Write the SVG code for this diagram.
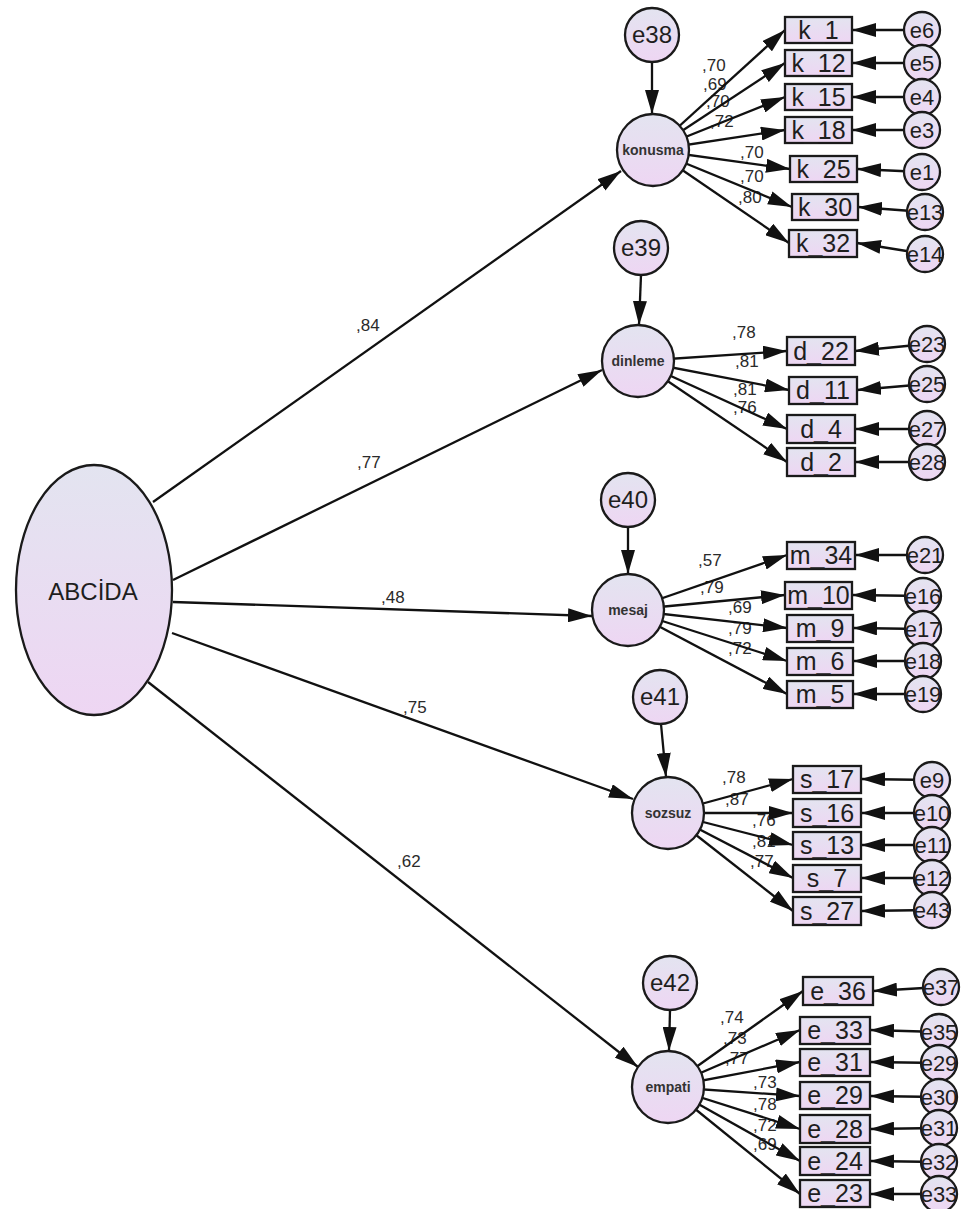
<svg xmlns="http://www.w3.org/2000/svg" width="967" height="1209" viewBox="0 0 967 1209">
<style>
  .n { stroke:#1a1a1a; stroke-width:2.3; fill:url(#g); }
  .c { stroke:#111; stroke-width:2.3; fill:none; marker-end:url(#ah); }
  .bt { font-family:"Liberation Sans",Arial,sans-serif; font-size:25px; fill:#1e1e1e; text-anchor:middle; }
  .et { font-family:"Liberation Sans",Arial,sans-serif; font-size:22px; fill:#1e1e1e; text-anchor:middle; }
  .rt { font-family:"Liberation Sans",Arial,sans-serif; font-size:24px; fill:#1e1e1e; text-anchor:middle; }
  .lt { font-family:"Liberation Sans",Arial,sans-serif; font-size:14px; font-weight:bold; fill:#333; text-anchor:middle; }
  .pl { font-family:"Liberation Sans",Arial,sans-serif; font-size:17px; fill:#2a2a2a; }
</style>
<defs>
  <linearGradient id="g" x1="0" y1="0" x2="0" y2="1">
    <stop offset="0" stop-color="#e3e4f0"/>
    <stop offset="1" stop-color="#eed6f3"/>
  </linearGradient>
  <marker id="ah" markerUnits="userSpaceOnUse" markerWidth="24" markerHeight="14" refX="24" refY="7" orient="auto">
    <path d="M0,0 L24,7 L0,14 z" fill="#111"/>
  </marker>
</defs>
<rect width="967" height="1209" fill="#ffffff"/>

<g id="labels">
  <text class="pl" x="356" y="331">,84</text>
  <text class="pl" x="357" y="468">,77</text>
  <text class="pl" x="381" y="603">,48</text>
  <text class="pl" x="403" y="713">,75</text>
  <text class="pl" x="397" y="867">,62</text>
  <text class="pl" x="702" y="71">,70</text>
  <text class="pl" x="703" y="90">,69</text>
  <text class="pl" x="706" y="107">,70</text>
  <text class="pl" x="710" y="127">,72</text>
  <text class="pl" x="740" y="158">,70</text>
  <text class="pl" x="740" y="182">,70</text>
  <text class="pl" x="738" y="203">,80</text>
  <text class="pl" x="732" y="338">,78</text>
  <text class="pl" x="735" y="367">,81</text>
  <text class="pl" x="733" y="395">,81</text>
  <text class="pl" x="733" y="413">,76</text>
  <text class="pl" x="698" y="566">,57</text>
  <text class="pl" x="700" y="593">,79</text>
  <text class="pl" x="728" y="613">,69</text>
  <text class="pl" x="728" y="634">,79</text>
  <text class="pl" x="728" y="654">,72</text>
  <text class="pl" x="722" y="783">,78</text>
  <text class="pl" x="725" y="805">,87</text>
  <text class="pl" x="752" y="826">,76</text>
  <text class="pl" x="752" y="847">,81</text>
  <text class="pl" x="750" y="867">,77</text>
  <text class="pl" x="720" y="1023">,74</text>
  <text class="pl" x="723" y="1044">,73</text>
  <text class="pl" x="725" y="1064">,77</text>
  <text class="pl" x="753" y="1088">,73</text>
  <text class="pl" x="753" y="1110">,78</text>
  <text class="pl" x="753" y="1131">,72</text>
  <text class="pl" x="753" y="1150">,69</text>
</g>

<g id="connectors">
  <line class="c" x1="153" y1="502" x2="621" y2="171"/>
  <line class="c" x1="173" y1="580" x2="602" y2="370"/>
  <line class="c" x1="173" y1="602" x2="592" y2="616"/>
  <line class="c" x1="172" y1="633" x2="633" y2="799"/>
  <line class="c" x1="148" y1="682" x2="638" y2="1067"/>
  <line class="c" x1="652" y1="62" x2="652" y2="114"/>
  <line class="c" x1="641" y1="275" x2="639" y2="325"/>
  <line class="c" x1="628" y1="527" x2="628" y2="574"/>
  <line class="c" x1="661" y1="724" x2="666" y2="777"/>
  <line class="c" x1="670" y1="1010" x2="669" y2="1051"/>
  <line class="c" x1="653" y1="150" x2="785" y2="30"/>
  <line class="c" x1="653" y1="150" x2="785" y2="63"/>
  <line class="c" x1="653" y1="150" x2="785" y2="97"/>
  <line class="c" x1="653" y1="150" x2="785" y2="130"/>
  <line class="c" x1="653" y1="150" x2="790" y2="169"/>
  <line class="c" x1="653" y1="150" x2="792" y2="207"/>
  <line class="c" x1="653" y1="150" x2="789" y2="243"/>
  <line class="c" x1="922" y1="30" x2="852" y2="30"/>
  <line class="c" x1="922" y1="63" x2="852" y2="63"/>
  <line class="c" x1="922" y1="97" x2="852" y2="97"/>
  <line class="c" x1="922" y1="130" x2="852" y2="130"/>
  <line class="c" x1="922" y1="172" x2="857" y2="169"/>
  <line class="c" x1="925" y1="212" x2="858" y2="207"/>
  <line class="c" x1="925" y1="254" x2="857" y2="243"/>
  <line class="c" x1="638" y1="361" x2="787" y2="351"/>
  <line class="c" x1="638" y1="361" x2="789" y2="390"/>
  <line class="c" x1="638" y1="361" x2="787" y2="429"/>
  <line class="c" x1="638" y1="361" x2="787" y2="462"/>
  <line class="c" x1="927" y1="344" x2="855" y2="351"/>
  <line class="c" x1="927" y1="384" x2="857" y2="390"/>
  <line class="c" x1="927" y1="429" x2="855" y2="429"/>
  <line class="c" x1="927" y1="462" x2="855" y2="462"/>
  <line class="c" x1="628" y1="610" x2="787" y2="555"/>
  <line class="c" x1="628" y1="610" x2="785" y2="595"/>
  <line class="c" x1="628" y1="610" x2="787" y2="628"/>
  <line class="c" x1="628" y1="610" x2="787" y2="661"/>
  <line class="c" x1="628" y1="610" x2="787" y2="694"/>
  <line class="c" x1="925" y1="555" x2="855" y2="555"/>
  <line class="c" x1="923" y1="596" x2="852" y2="595"/>
  <line class="c" x1="923" y1="629" x2="853" y2="628"/>
  <line class="c" x1="923" y1="661" x2="853" y2="661"/>
  <line class="c" x1="923" y1="694" x2="853" y2="694"/>
  <line class="c" x1="668" y1="813" x2="793" y2="779"/>
  <line class="c" x1="668" y1="813" x2="793" y2="813"/>
  <line class="c" x1="668" y1="813" x2="793" y2="845"/>
  <line class="c" x1="668" y1="813" x2="793" y2="878"/>
  <line class="c" x1="668" y1="813" x2="793" y2="911"/>
  <line class="c" x1="932" y1="780" x2="861" y2="779"/>
  <line class="c" x1="932" y1="813" x2="861" y2="813"/>
  <line class="c" x1="932" y1="845" x2="861" y2="845"/>
  <line class="c" x1="932" y1="878" x2="861" y2="878"/>
  <line class="c" x1="932" y1="910" x2="861" y2="911"/>
  <line class="c" x1="668" y1="1087" x2="803" y2="991"/>
  <line class="c" x1="668" y1="1087" x2="800" y2="1030"/>
  <line class="c" x1="668" y1="1087" x2="800" y2="1062"/>
  <line class="c" x1="668" y1="1087" x2="800" y2="1096"/>
  <line class="c" x1="668" y1="1087" x2="800" y2="1129"/>
  <line class="c" x1="668" y1="1087" x2="800" y2="1161"/>
  <line class="c" x1="668" y1="1087" x2="800" y2="1194"/>
  <line class="c" x1="941" y1="987" x2="873" y2="991"/>
  <line class="c" x1="939" y1="1032" x2="870" y2="1030"/>
  <line class="c" x1="939" y1="1063" x2="870" y2="1062"/>
  <line class="c" x1="939" y1="1097" x2="870" y2="1096"/>
  <line class="c" x1="939" y1="1128" x2="870" y2="1129"/>
  <line class="c" x1="939" y1="1162" x2="870" y2="1161"/>
  <line class="c" x1="939" y1="1194" x2="870" y2="1194"/>
</g>

<g id="ABCIDA"><ellipse class="n" cx="94" cy="590" rx="78" ry="125"/><text class="bt" x="93" y="600" style="font-size:24px">ABCİDA</text></g>

<g id="konusma"><circle class="n" cx="653" cy="150" r="36"/><text class="lt" x="653" y="155">konusma</text></g>
<g id="dinleme"><circle class="n" cx="638" cy="361" r="36"/><text class="lt" x="638" y="366">dinleme</text></g>
<g id="mesaj"><circle class="n" cx="628" cy="610" r="36"/><text class="lt" x="628" y="615">mesaj</text></g>
<g id="sozsuz"><circle class="n" cx="668" cy="813" r="36"/><text class="lt" x="668" y="818">sozsuz</text></g>
<g id="empati"><circle class="n" cx="668" cy="1087" r="36"/><text class="lt" x="668" y="1092">empati</text></g>

<g id="e38"><circle class="n" cx="652" cy="35" r="27"/><text class="rt" x="652" y="43">e38</text></g>
<g id="e39"><circle class="n" cx="641" cy="248" r="27"/><text class="rt" x="641" y="256">e39</text></g>
<g id="e40"><circle class="n" cx="628" cy="500" r="27"/><text class="rt" x="628" y="508">e40</text></g>
<g id="e41"><circle class="n" cx="660" cy="697" r="27"/><text class="rt" x="660" y="705">e41</text></g>
<g id="e42"><circle class="n" cx="670" cy="983" r="27"/><text class="rt" x="670" y="991">e42</text></g>

<g id="k_1"><rect class="n" x="785" y="17" width="67" height="26"/><text class="bt" x="818.5" y="39">k_1</text></g>
<g id="k_12"><rect class="n" x="785" y="50" width="67" height="26"/><text class="bt" x="818.5" y="72">k_12</text></g>
<g id="k_15"><rect class="n" x="785" y="84" width="67" height="26"/><text class="bt" x="818.5" y="106">k_15</text></g>
<g id="k_18"><rect class="n" x="785" y="117" width="67" height="26"/><text class="bt" x="818.5" y="139">k_18</text></g>
<g id="k_25"><rect class="n" x="790" y="156" width="67" height="26"/><text class="bt" x="823.5" y="178">k_25</text></g>
<g id="k_30"><rect class="n" x="792" y="194" width="66" height="26"/><text class="bt" x="825" y="216">k_30</text></g>
<g id="k_32"><rect class="n" x="789" y="230" width="68" height="27"/><text class="bt" x="823" y="252">k_32</text></g>

<g id="d_22"><rect class="n" x="787" y="337" width="68" height="28"/><text class="bt" x="821" y="360">d_22</text></g>
<g id="d_11"><rect class="n" x="789" y="377" width="68" height="27"/><text class="bt" x="823" y="399">d_11</text></g>
<g id="d_4"><rect class="n" x="787" y="415" width="68" height="28"/><text class="bt" x="821" y="438">d_4</text></g>
<g id="d_2"><rect class="n" x="787" y="448" width="68" height="28"/><text class="bt" x="821" y="471">d_2</text></g>

<g id="m_34"><rect class="n" x="787" y="542" width="68" height="27"/><text class="bt" x="821" y="564">m_34</text></g>
<g id="m_10"><rect class="n" x="785" y="582" width="67" height="27"/><text class="bt" x="818.5" y="604">m_10</text></g>
<g id="m_9"><rect class="n" x="787" y="615" width="66" height="27"/><text class="bt" x="820" y="637">m_9</text></g>
<g id="m_6"><rect class="n" x="787" y="648" width="66" height="27"/><text class="bt" x="820" y="670">m_6</text></g>
<g id="m_5"><rect class="n" x="787" y="681" width="66" height="27"/><text class="bt" x="820" y="703">m_5</text></g>

<g id="s_17"><rect class="n" x="793" y="766" width="68" height="27"/><text class="bt" x="827" y="788">s_17</text></g>
<g id="s_16"><rect class="n" x="793" y="799" width="68" height="28"/><text class="bt" x="827" y="822">s_16</text></g>
<g id="s_13"><rect class="n" x="793" y="832" width="68" height="27"/><text class="bt" x="827" y="854">s_13</text></g>
<g id="s_7"><rect class="n" x="793" y="865" width="68" height="27"/><text class="bt" x="827" y="887">s_7</text></g>
<g id="s_27"><rect class="n" x="793" y="897" width="68" height="28"/><text class="bt" x="827" y="920">s_27</text></g>

<g id="e_36"><rect class="n" x="803" y="977" width="70" height="28"/><text class="bt" x="838" y="1000">e_36</text></g>
<g id="e_33"><rect class="n" x="800" y="1017" width="70" height="27"/><text class="bt" x="835" y="1039">e_33</text></g>
<g id="e_31"><rect class="n" x="800" y="1049" width="70" height="27"/><text class="bt" x="835" y="1071">e_31</text></g>
<g id="e_29"><rect class="n" x="800" y="1082" width="70" height="27"/><text class="bt" x="835" y="1104">e_29</text></g>
<g id="e_28"><rect class="n" x="800" y="1115" width="70" height="28"/><text class="bt" x="835" y="1138">e_28</text></g>
<g id="e_24"><rect class="n" x="800" y="1147" width="70" height="28"/><text class="bt" x="835" y="1170">e_24</text></g>
<g id="e_23"><rect class="n" x="800" y="1180" width="70" height="27"/><text class="bt" x="835" y="1202">e_23</text></g>

<g id="e6"><circle class="n" cx="922" cy="30" r="18"/><text class="et" x="922" y="38">e6</text></g>
<g id="e5"><circle class="n" cx="922" cy="63" r="18"/><text class="et" x="922" y="71">e5</text></g>
<g id="e4"><circle class="n" cx="922" cy="97" r="18"/><text class="et" x="922" y="105">e4</text></g>
<g id="e3"><circle class="n" cx="922" cy="130" r="18"/><text class="et" x="922" y="138">e3</text></g>
<g id="e1"><circle class="n" cx="922" cy="172" r="18"/><text class="et" x="922" y="180">e1</text></g>
<g id="e13"><circle class="n" cx="925" cy="212" r="18"/><text class="et" x="925" y="220">e13</text></g>
<g id="e14"><circle class="n" cx="925" cy="254" r="18"/><text class="et" x="925" y="262">e14</text></g>

<g id="e23"><circle class="n" cx="927" cy="344" r="18"/><text class="et" x="927" y="352">e23</text></g>
<g id="e25"><circle class="n" cx="927" cy="384" r="18"/><text class="et" x="927" y="392">e25</text></g>
<g id="e27"><circle class="n" cx="927" cy="429" r="18"/><text class="et" x="927" y="437">e27</text></g>
<g id="e28"><circle class="n" cx="927" cy="462" r="18"/><text class="et" x="927" y="470">e28</text></g>

<g id="e21"><circle class="n" cx="925" cy="555" r="18"/><text class="et" x="925" y="563">e21</text></g>
<g id="e16"><circle class="n" cx="923" cy="596" r="18"/><text class="et" x="923" y="604">e16</text></g>
<g id="e17"><circle class="n" cx="923" cy="629" r="18"/><text class="et" x="923" y="637">e17</text></g>
<g id="e18"><circle class="n" cx="923" cy="661" r="18"/><text class="et" x="923" y="669">e18</text></g>
<g id="e19"><circle class="n" cx="923" cy="694" r="18"/><text class="et" x="923" y="702">e19</text></g>

<g id="e9"><circle class="n" cx="932" cy="780" r="18"/><text class="et" x="932" y="788">e9</text></g>
<g id="e10"><circle class="n" cx="932" cy="813" r="18"/><text class="et" x="932" y="821">e10</text></g>
<g id="e11"><circle class="n" cx="932" cy="845" r="18"/><text class="et" x="932" y="853">e11</text></g>
<g id="e12"><circle class="n" cx="932" cy="878" r="18"/><text class="et" x="932" y="886">e12</text></g>
<g id="e43"><circle class="n" cx="932" cy="910" r="18"/><text class="et" x="932" y="918">e43</text></g>

<g id="e37"><circle class="n" cx="941" cy="987" r="18"/><text class="et" x="941" y="995">e37</text></g>
<g id="e35"><circle class="n" cx="939" cy="1032" r="18"/><text class="et" x="939" y="1040">e35</text></g>
<g id="e29"><circle class="n" cx="939" cy="1063" r="18"/><text class="et" x="939" y="1071">e29</text></g>
<g id="e30"><circle class="n" cx="939" cy="1097" r="18"/><text class="et" x="939" y="1105">e30</text></g>
<g id="e31"><circle class="n" cx="939" cy="1128" r="18"/><text class="et" x="939" y="1136">e31</text></g>
<g id="e32"><circle class="n" cx="939" cy="1162" r="18"/><text class="et" x="939" y="1170">e32</text></g>
<g id="e33"><circle class="n" cx="939" cy="1194" r="18"/><text class="et" x="939" y="1202">e33</text></g>
</svg>
